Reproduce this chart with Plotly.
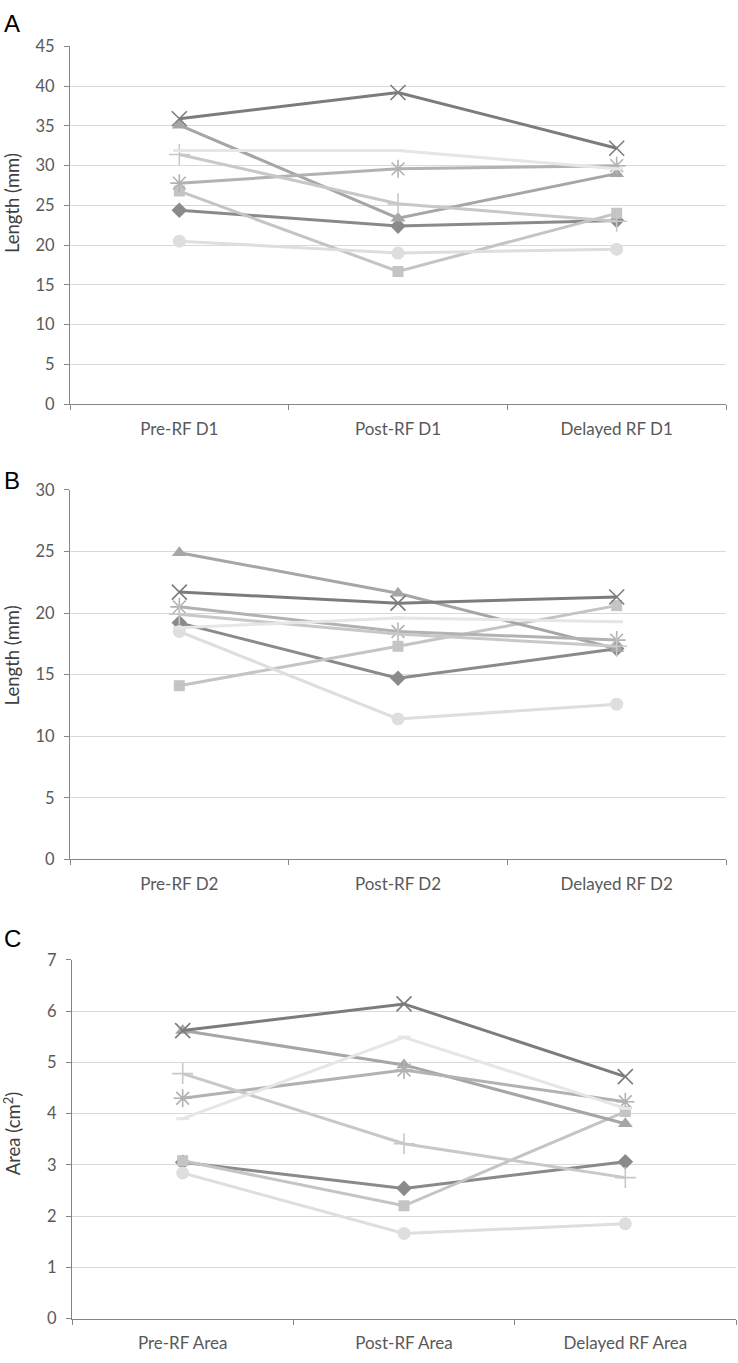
import plotly.graph_objects as go

# categories for each panel
cats_a = ["Pre-RF D1", "Post-RF D1", "Delayed RF D1"]
cats_b = ["Pre-RF D2", "Post-RF D2", "Delayed RF D2"]
cats_c = ["Pre-RF Area", "Post-RF Area", "Delayed RF Area"]

# panel A, D1 length (mm)
a_diamond = [24.4, 22.4, 23.1]
a_square = [26.8, 16.7, 24.0]
a_triangle = [35.1, 23.4, 29.0]
a_x = [35.9, 39.2, 32.2]
a_star = [27.8, 29.6, 30.0]
a_circle = [20.5, 19.0, 19.5]
a_plus = [31.4, 25.2, 23.0]
a_dash = [31.9, 31.9, 29.6]

# panel B, D2 length (mm)
b_diamond = [19.2, 14.7, 17.1]
b_square = [14.1, 17.3, 20.6]
b_triangle = [24.9, 21.6, 17.1]
b_x = [21.7, 20.8, 21.3]
b_star = [20.5, 18.5, 17.8]
b_circle = [18.5, 11.4, 12.6]
b_plus = [19.9, 18.3, 17.3]
b_dash = [18.8, 19.6, 19.3]

# panel C, area (cm2)
c_diamond = [3.05, 2.54, 3.06]
c_square = [3.08, 2.2, 4.04]
c_triangle = [5.62, 4.95, 3.8]
c_x = [5.62, 6.14, 4.72]
c_star = [4.3, 4.85, 4.23]
c_circle = [2.84, 1.66, 1.85]
c_plus = [4.78, 3.41, 2.75]
c_dash = [3.9, 5.49, 4.1]

# series styles (Excel grayscale look)
styles = [
    dict(symbol="diamond", color="#8a8a8a", size=12),
    dict(symbol="square", color="#c4c4c4", size=11),
    dict(symbol="triangle-up", color="#a6a6a6", size=13),
    dict(symbol="x-thin-open", color="#7c7c7c", size=15),
    dict(symbol="asterisk-open", color="#b2b2b2", size=15),
    dict(symbol="circle", color="#dedede", size=13),
    dict(symbol="cross-thin-open", color="#c8c8c8", size=15),
    dict(symbol="line-ew-open", color="#e6e6e6", size=9),
]

panels = [
    ("x", "y", cats_a, [a_diamond, a_square, a_triangle, a_x, a_star, a_circle, a_plus, a_dash]),
    ("x2", "y2", cats_b, [b_diamond, b_square, b_triangle, b_x, b_star, b_circle, b_plus, b_dash]),
    ("x3", "y3", cats_c, [c_diamond, c_square, c_triangle, c_x, c_star, c_circle, c_plus, c_dash]),
]

fig = go.Figure()
for xa, ya, cats, series in panels:
    for vals, st in zip(series, styles):
        sym = st["symbol"]
        if sym == "line-ew-open":
            mline = dict(color=st["color"], width=3)
        elif sym.endswith("-open"):
            mline = dict(color=st["color"], width=1.6)
        else:
            mline = dict(width=0)
        fig.add_trace(go.Scatter(
            x=cats, y=vals, xaxis=xa, yaxis=ya, mode="lines+markers",
            line=dict(color=st["color"], width=3),
            marker=dict(symbol=sym, size=st["size"], color=st["color"], line=mline),
            showlegend=False, hoverinfo="skip",
        ))

W = 738.0
H = 1363.0
def px_(p):
    return p / W
def py(p):
    return 1 - p / H

axis_col = "#868686"
grid_col = "#d9d9d9"
tick_font = dict(family="Lato, Open Sans, sans-serif", size=16.5, color="#595959")

def xaxis(dom):
    return dict(domain=dom, type="category", range=[-0.5, 2.5], tickson="boundaries",
                ticks="outside", ticklen=5, tickcolor=axis_col, showline=True,
                linecolor=axis_col, linewidth=1, showgrid=False,
                tickfont=dict(tick_font, size=17), ticklabelstandoff=9, fixedrange=True)

def yaxis(dom, rng, dt, anchor):
    return dict(domain=dom, range=rng, dtick=dt, anchor=anchor, ticks="outside", ticklen=5,
                tickcolor=axis_col, showline=True, linecolor=axis_col, linewidth=1,
                showgrid=True, gridcolor=grid_col, gridwidth=1, zeroline=False,
                tickfont=tick_font, ticklabelstandoff=6, fixedrange=True)

fig.update_layout(
    width=738, height=1363,
    margin=dict(l=0, r=0, t=0, b=0),
    paper_bgcolor="white", plot_bgcolor="white",
    xaxis=dict(xaxis([px_(70), px_(726)]), anchor="y"),
    yaxis=yaxis([py(400), py(37)], [0, 45], 5, "x"),
    xaxis2=dict(xaxis([px_(70), px_(726)]), anchor="y2"),
    yaxis2=yaxis([py(862), py(487)], [0, 30], 5, "x2"),
    xaxis3=dict(xaxis([px_(72), px_(736)]), anchor="y3"),
    yaxis3=yaxis([py(1328), py(964)], [0, 7], 1, "x3"),
)

title_font = dict(family="Lato, Open Sans, sans-serif", size=18.5, color="#404040")
letter_font = dict(family="Liberation Sans, Arial, sans-serif", size=24, color="black")
annots = [
    ("Length (mm)", 196),
    ("Length (mm)", 655),
    ("Area (cm<sup>2</sup>)", 1140),
]
for text, yc in annots:
    fig.add_annotation(text=text, x=px_(12), y=py(yc), xref="paper", yref="paper",
                       textangle=-90, showarrow=False, font=title_font,
                       xanchor="center", yanchor="middle")
for letter, yc in [("A", 14), ("B", 478), ("C", 942)]:
    fig.add_annotation(text=letter, x=px_(2), y=py(yc), xref="paper", yref="paper",
                       showarrow=False, font=letter_font, xanchor="left", yanchor="middle")

# drop the default 8px page margin so the figure sits at the window corner
fig.write_html("out.html", config={"displayModeBar": False},
               post_script="document.body.style.margin='0px';")
